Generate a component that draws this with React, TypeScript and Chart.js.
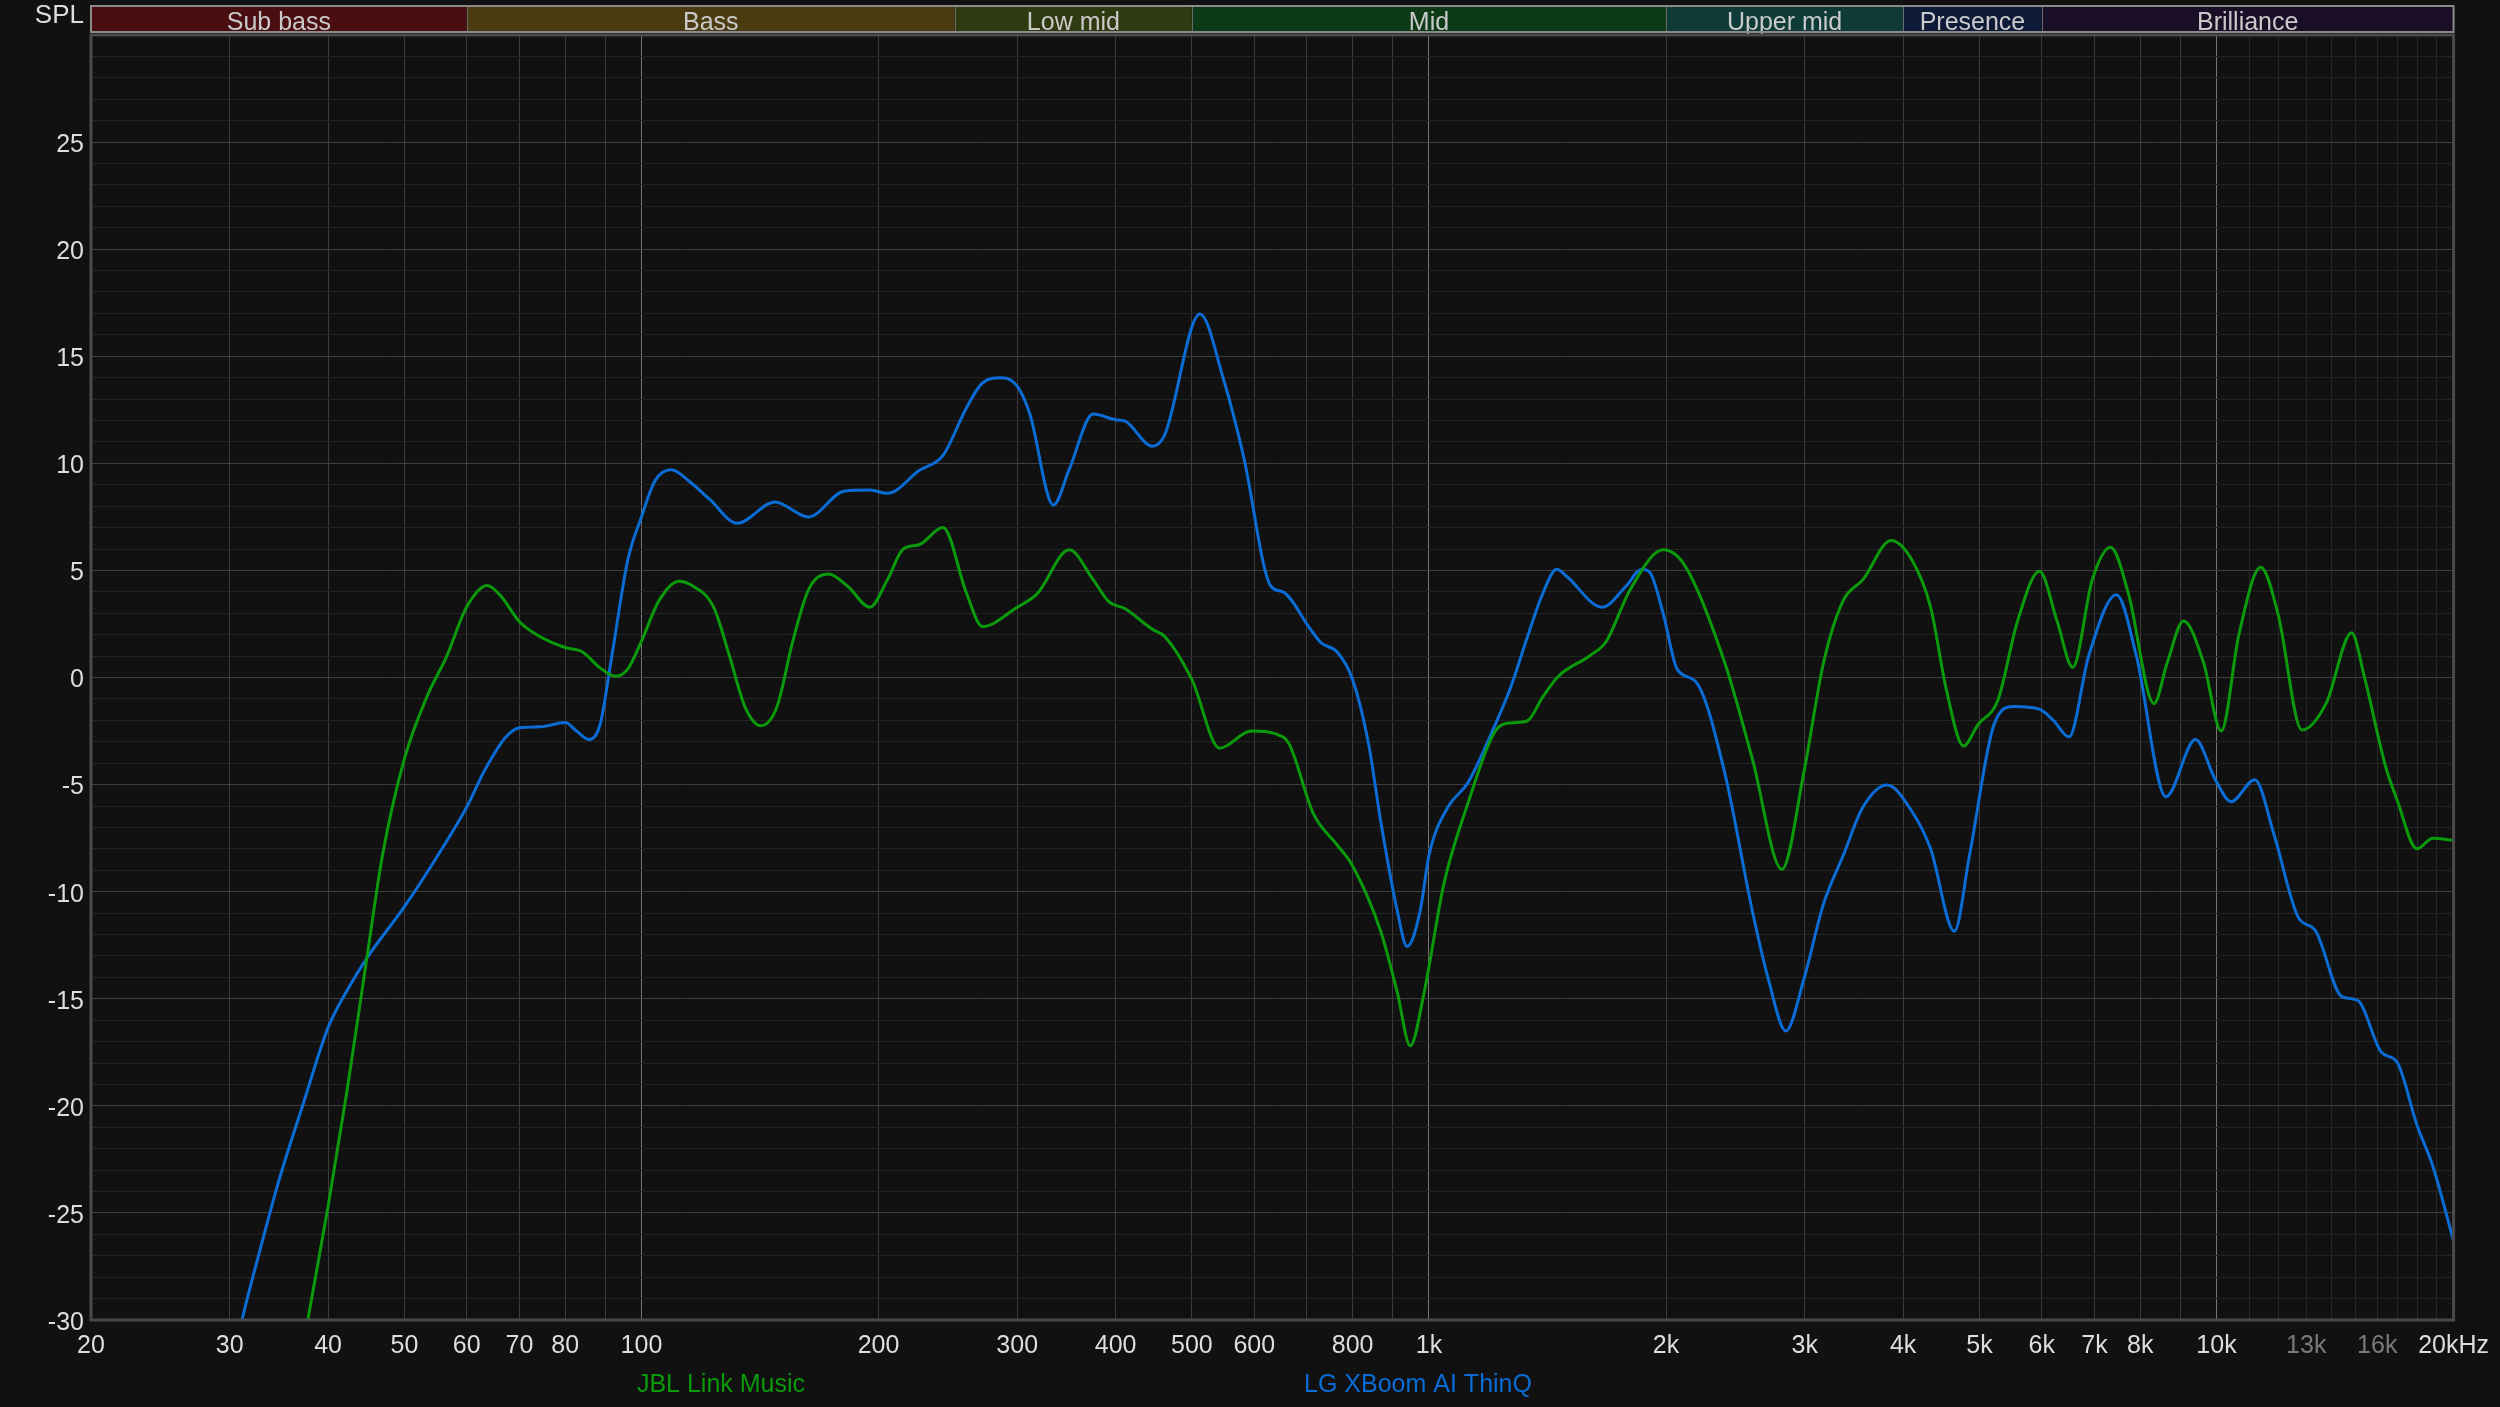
import React, { useEffect, useRef } from 'react';
import { Chart, registerables } from 'chart.js';

Chart.register(...registerables);

// ---- Data ----
const jblFreq = [36, 37.7, 40, 42.3, 44.8, 46.9, 50, 53.4, 56.6, 60, 63.7, 66.3, 70, 73.6, 80, 84.1, 88.6, 92.8, 96.1, 100, 105.3, 111.6, 115.2, 123.5, 129.3, 135.4, 141.8, 148.6, 155.6, 163, 172.7, 182.9, 195, 205.3, 215, 225.2, 241.5, 258.7, 271, 300, 318.4, 349.3, 374.6, 392.2, 410.8, 445.5, 461.4, 500, 542.3, 594.6, 652.3, 665.6, 713.5, 764.6, 800, 868.3, 911.5, 946.8, 986, 1045, 1120, 1214, 1271, 1332, 1395, 1460, 1602, 1678, 1800, 1984, 2115, 2374, 2574, 2807, 2992, 3170, 3358, 3557, 3861, 4096, 4335, 4540, 4772, 4981, 5277, 5590, 5959, 6274, 6567, 6955, 7337, 7729, 8330, 8660, 9082, 9627, 10139, 10677, 11381, 11972, 12836, 13774, 14848, 15401, 16385, 16961, 17969, 18816, 20000];
const jblDb = [-34.5, -30, -24.7, -19.25, -13.1, -8.3, -3.8, -0.9, 1.0, 3.3, 4.3, 3.8, 2.6, 2.0, 1.4, 1.2, 0.45, 0.06, 0.4, 1.7, 3.6, 4.5, 4.35, 3.28, 1.03, -1.38, -2.25, -1.38, 1.67, 4.1, 4.83, 4.25, 3.28, 4.57, 6.0, 6.2, 7.0, 3.93, 2.38, 3.28, 3.93, 5.96, 4.57, 3.54, 3.22, 2.25, 1.93, -0.1, -3.3, -2.5, -2.77, -3.16, -6.37, -7.82, -8.8, -11.85, -14.7, -17.2, -14.7, -9.6, -5.9, -2.5, -2.12, -2.03, -0.9, 0.06, 1.03, 1.67, 4.09, 5.96, 5.2, 0.7, -3.8, -8.95, -4.44, 0.7, 3.6, 4.57, 6.4, 5.54, 3.28, -0.58, -3.2, -2.19, -1.06, 2.64, 4.96, 2.64, 0.48, 4.57, 6.08, 3.93, -1.22, 0.7, 2.64, 0.7, -2.5, 2.0, 5.15, 2.96, -2.45, -1.22, 2.09, 0.06, -4.12, -5.73, -8.0, -7.5, -7.6];

const lgFreq = [29.5, 31.1, 32.8, 34.7, 37.2, 40, 42.3, 44.8, 50, 54.5, 60, 63.3, 67.2, 70, 74.5, 80, 82.7, 85.9, 88.6, 91.7, 96.1, 100, 104.1, 109.1, 115.2, 122.2, 132.3, 147.7, 163, 180.8, 195, 205.3, 225.2, 241.5, 258.7, 271, 287.1, 300, 311.3, 333.5, 349.3, 374.6, 400, 410.8, 445.5, 461.4, 511.9, 548.6, 581.1, 630.2, 652.3, 705.6, 730, 764.6, 800, 838.7, 868.3, 911.5, 938.1, 974.6, 1000, 1057, 1120, 1214, 1271, 1332, 1395, 1453, 1495, 1659, 1778, 1862, 1908, 1984, 2066, 2189, 2374, 2574, 2698, 2839, 2992, 3170, 3358, 3557, 3818, 4096, 4335, 4647, 4857, 5217, 5526, 5959, 6205, 6498, 6884, 7465, 7909, 8625, 9405, 9966, 10437, 11186, 11834, 12702, 13343, 14424, 15105, 16195, 16961, 17969, 18816, 20000];
const lgDb = [-34, -30, -26.7, -23.4, -19.9, -16.35, -14.6, -13.1, -10.7, -8.6, -6.05, -4.3, -2.8, -2.35, -2.3, -2.1, -2.5, -2.9, -2.2, 1.0, 5.5, 7.5, 9.2, 9.7, 9.14, 8.3, 7.2, 8.2, 7.5, 8.7, 8.75, 8.6, 9.66, 10.37, 12.6, 13.75, 14.0, 13.6, 12.3, 8.05, 9.72, 12.3, 12.04, 11.98, 10.8, 11.3, 16.97, 13.9, 10.37, 4.25, 4.0, 2.3, 1.61, 1.19, -0.1, -3.16, -6.7, -10.9, -12.56, -10.9, -8.3, -6.05, -4.93, -2.19, -0.42, 1.84, 3.93, 5.05, 4.73, 3.28, 4.25, 5.05, 4.9, 2.96, 0.39, -0.26, -4.44, -10.9, -14.1, -16.5, -14.1, -10.56, -8.3, -6.05, -5.02, -6.2, -8.0, -11.85, -8.3, -2.2, -1.35, -1.48, -2.0, -2.77, 1.03, 3.86, 1.03, -5.57, -2.9, -4.77, -5.8, -4.77, -7.34, -11.2, -11.8, -14.9, -15.07, -17.5, -17.97, -20.9, -22.8, -26.3];

const seriesNames = ['JBL Link Music', 'LG XBoom AI ThinQ'];
const seriesColors = ['#0b9a0b', '#0a6cd4'];

const xTickValues = [20, 30, 40, 50, 60, 70, 80, 100, 200, 300, 400, 500, 600, 800, 1000, 2000, 3000, 4000, 5000, 6000, 7000, 8000, 10000, 13000, 16000, 20000];
const xTickLabels = ['20', '30', '40', '50', '60', '70', '80', '100', '200', '300', '400', '500', '600', '800', '1k', '2k', '3k', '4k', '5k', '6k', '7k', '8k', '10k', '13k', '16k', '20kHz'];
const dimTickValues = [13000, 16000];
const brightGridValues = [100, 1000, 10000];
const xGridValues = [20, 30, 40, 50, 60, 70, 80, 90, 100, 200, 300, 400, 500, 600, 700, 800, 900, 1000, 2000, 3000, 4000, 5000, 6000, 7000, 8000, 9000, 10000, 11000, 12000, 13000, 14000, 15000, 16000, 17000, 18000, 19000, 20000];

const yMin = -30;
const yMax = 30;
const yLabelStep = 5;

const bandNames = ['Sub bass', 'Bass', 'Low mid', 'Mid', 'Upper mid', 'Presence', 'Brilliance'];
const bandEdges = [20, 60, 250, 500, 2000, 4000, 6000, 20000];
const bandColors = ['#4b0e10', '#4a3b11', '#2f3a10', '#0e3b17', '#0e3a38', '#0d1a38', '#1b0f28'];

const FONT = '"Liberation Sans", Arial, sans-serif';

const decorPlugin = {
  id: 'decor',
  beforeDraw(chart: any) {
    const { ctx, width, height } = chart;
    ctx.save();
    ctx.fillStyle = '#111111';
    ctx.fillRect(0, 0, width, height);
    ctx.restore();
  },
  afterDraw(chart: any) {
    const { ctx, chartArea } = chart;
    const xs = chart.scales.x;
    const bTop = 6;
    const bBot = 32;
    ctx.save();
    // frequency band header
    for (let i = 0; i < bandNames.length; i++) {
      const x0 = xs.getPixelForValue(bandEdges[i]);
      const x1 = xs.getPixelForValue(bandEdges[i + 1]);
      ctx.fillStyle = bandColors[i];
      ctx.fillRect(x0, bTop, x1 - x0, bBot - bTop);
      ctx.fillStyle = '#c9c9c9';
      ctx.font = '25px ' + FONT;
      ctx.textAlign = 'center';
      ctx.textBaseline = 'alphabetic';
      ctx.fillText(bandNames[i], (x0 + x1) / 2, 30);
    }
    ctx.strokeStyle = '#6a6a6a';
    ctx.lineWidth = 1;
    for (let i = 1; i < bandEdges.length - 1; i++) {
      const x = Math.round(xs.getPixelForValue(bandEdges[i])) + 0.5;
      ctx.beginPath();
      ctx.moveTo(x, bTop);
      ctx.lineTo(x, bBot);
      ctx.stroke();
    }
    ctx.strokeStyle = '#8a8a8a';
    ctx.lineWidth = 2;
    ctx.strokeRect(chartArea.left, bTop, chartArea.right - chartArea.left, bBot - bTop);

    // plot frame
    ctx.strokeStyle = '#4a4a4a';
    ctx.lineWidth = 3;
    ctx.strokeRect(chartArea.left, chartArea.top, chartArea.right - chartArea.left, chartArea.bottom - chartArea.top);

    // SPL label
    ctx.fillStyle = '#dddddd';
    ctx.font = '26px ' + FONT;
    ctx.textAlign = 'right';
    ctx.textBaseline = 'alphabetic';
    ctx.fillText('SPL', 84, 23);

    // legend
    ctx.font = '25px ' + FONT;
    ctx.textAlign = 'center';
    const legendX = [721, 1418];
    for (let i = 0; i < seriesNames.length; i++) {
      ctx.fillStyle = seriesColors[i];
      ctx.fillText(seriesNames[i], legendX[i], 1392);
    }
    ctx.restore();
  },
};

export default function App() {
  const canvasRef = useRef<HTMLCanvasElement | null>(null);

  useEffect(() => {
    document.body.style.margin = '0';
    document.body.style.background = '#111111';
    document.body.style.overflow = 'hidden';
    const canvas = canvasRef.current;
    if (!canvas) return;

    const chart = new Chart(canvas, {
      type: 'line',
      data: {
        datasets: [
          {
            label: seriesNames[0],
            data: jblFreq.map((f, i) => ({ x: f, y: jblDb[i] })),
            borderColor: seriesColors[0],
            borderWidth: 3,
            pointRadius: 0,
            cubicInterpolationMode: 'monotone',
            fill: false,
          },
          {
            label: seriesNames[1],
            data: lgFreq.map((f, i) => ({ x: f, y: lgDb[i] })),
            borderColor: seriesColors[1],
            borderWidth: 3,
            pointRadius: 0,
            cubicInterpolationMode: 'monotone',
            fill: false,
          },
        ],
      },
      options: {
        animation: false,
        responsive: false,
        devicePixelRatio: 1,
        layout: { padding: { top: 35, right: 46, left: 0, bottom: 0 } },
        plugins: { legend: { display: false }, tooltip: { enabled: false } },
        events: [],
        scales: {
          x: {
            type: 'logarithmic',
            min: 20,
            max: 20000,
            afterBuildTicks: (scale: any) => {
              scale.ticks = xGridValues.map((v) => ({ value: v }));
            },
            afterFit: (scale: any) => {
              scale.height = 87;
            },
            ticks: {
              autoSkip: false,
              maxRotation: 0,
              minRotation: 0,
              padding: 11,
              font: { size: 25, family: FONT },
              color: (ctx: any) => (dimTickValues.includes(ctx.tick.value) ? '#7a7a7a' : '#dedede'),
              callback: (value: any) => {
                const idx = xTickValues.indexOf(Number(value));
                return idx >= 0 ? xTickLabels[idx] : '';
              },
            },
            grid: {
              drawTicks: false,
              lineWidth: 1,
              color: (ctx: any) => {
                const v = ctx.tick ? ctx.tick.value : 0;
                if (brightGridValues.includes(v)) return '#767676';
                if (v > 10000) return '#282828';
                return '#3c3c3c';
              },
            },
            border: { display: false },
          },
          y: {
            type: 'linear',
            min: yMin,
            max: yMax,
            afterBuildTicks: (scale: any) => {
              const t = [];
              for (let v = yMin; v <= yMax; v++) t.push({ value: v });
              scale.ticks = t;
            },
            afterFit: (scale: any) => {
              scale.width = 91;
            },
            ticks: {
              autoSkip: false,
              padding: 7,
              labelOffset: 3,
              font: { size: 25, family: FONT },
              color: '#dedede',
              callback: (value: any) => {
                const v = Number(value);
                return v % yLabelStep === 0 && v !== yMax ? String(v) : '';
              },
            },
            grid: {
              drawTicks: false,
              lineWidth: 1,
              color: (ctx: any) => {
                const v = ctx.tick ? ctx.tick.value : 0;
                return v % yLabelStep === 0 ? '#3e3e3e' : '#232323';
              },
            },
            border: { display: false },
          },
        },
      } as any,
      plugins: [decorPlugin],
    });

    return () => {
      chart.destroy();
    };
  }, []);

  return (
    <div style={{ width: 2500, height: 1407, background: '#111111' }}>
      <canvas ref={canvasRef} width={2500} height={1407} style={{ display: 'block', width: 2500, height: 1407 }} />
    </div>
  );
}
